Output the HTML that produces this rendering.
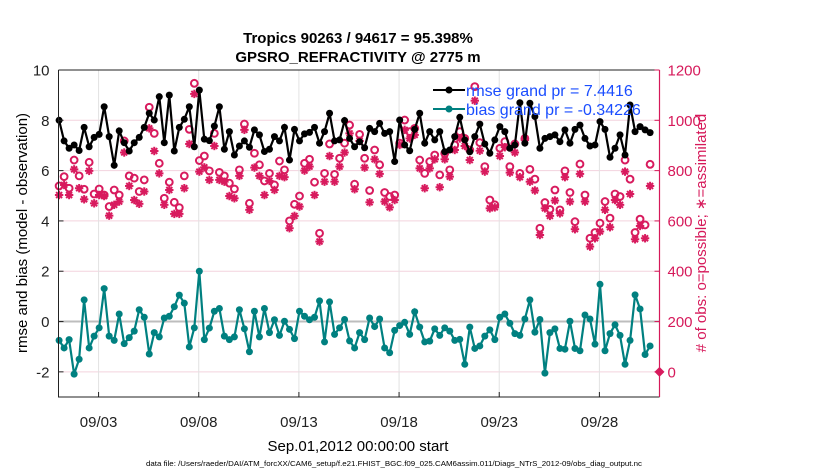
<!DOCTYPE html>
<html><head><meta charset="utf-8"><style>
body{margin:0;background:#fff;}
svg text{font-family:"Liberation Sans",Arial,sans-serif;}
</style></head><body>
<svg id="chart" width="830" height="470" xmlns="http://www.w3.org/2000/svg">
<rect width="830" height="470" fill="#fff"/>
<text x="358" y="43" text-anchor="middle" font-size="15" font-weight="bold">Tropics 90263 / 94617 = 95.398%</text>
<text x="358" y="62" text-anchor="middle" font-size="15" font-weight="bold">GPSRO_REFRACTIVITY @ 2775 m</text>
<g id="grid"></g>
<g id="marks"></g>
<g id="axes"></g>
<text transform="translate(27,233) rotate(-90)" text-anchor="middle" font-size="15">rmse and bias (model - observation)</text>
<text transform="translate(706,233) rotate(-90)" text-anchor="middle" font-size="15" fill="#d6195a"># of obs: o=possible; ∗=assimilated</text>
<text x="358" y="451" text-anchor="middle" font-size="15">Sep.01,2012 00:00:00 start</text>
<text x="394" y="466" text-anchor="middle" font-size="7.4" textLength="496" lengthAdjust="spacingAndGlyphs">data file: /Users/raeder/DAI/ATM_forcXX/CAM6_setup/f.e21.FHIST_BGC.f09_025.CAM6assim.011/Diags_NTrS_2012-09/obs_diag_output.nc</text>
<g id="legend">
<line x1="433" y1="90" x2="465" y2="90" stroke="#000" stroke-width="2"/><circle cx="449" cy="90" r="3.5" fill="#000"/>
<text x="466" y="96" font-size="16" fill="#1a4dff">rmse grand pr = 7.4416</text>
<line x1="433" y1="109" x2="465" y2="109" stroke="#008080" stroke-width="2"/><circle cx="449" cy="109" r="3.5" fill="#008080"/>
<text x="466" y="115" font-size="16" fill="#1a4dff">bias grand pr = -0.34226</text>
</g>
</svg>
<script>
const tickDays = [2,7,12,17,22,27];
const tickLabels = ["09/03","09/08","09/13","09/18","09/23","09/28"];
const leftTicks = [-2,0,2,4,6,8,10];
const rightTicks = [0,200,400,600,800,1000,1200];
const rmse = [8.0,7.18,6.89,7.02,6.8,7.72,6.95,7.32,7.44,8.54,7.35,6.21,7.58,7.11,6.78,7.11,7.32,7.72,8.28,8.01,8.94,7.11,9.0,6.78,7.72,8.04,8.54,6.95,9.2,7.25,7.19,7.77,8.54,6.85,7.55,6.62,6.98,7.18,6.93,7.62,7.42,6.76,6.85,7.35,7.18,7.72,6.42,7.64,7.18,7.46,7.52,7.72,7.09,7.55,8.28,7.18,7.22,7.99,7.28,6.95,7.15,
6.91,7.68,7.55,7.88,7.48,7.55,6.36,8.01,7.02,6.79,7.64,8.28,7.09,7.55,7.22,7.55,6.75,6.82,7.35,8.12,7.22,6.75,7.35,7.85,7.06,6.69,7.22,7.75,7.55,6.89,7.02,8.70,7.09,8.68,8.15,6.89,7.28,7.35,7.42,7.15,7.62,7.09,7.64,7.81,7.28,6.98,7.02,7.95,7.64,6.53,6.89,7.42,6.62,8.61,7.55,7.75,7.62,7.51];
const bias = [-0.75,-1.05,-0.72,-2.09,-1.5,0.86,-1.05,-0.58,-0.25,1.31,-0.58,-0.75,0.3,-0.88,-0.64,-0.38,0.47,0.17,-1.29,-0.44,-0.61,0.14,0.21,0.59,1.05,0.73,-1.01,-0.25,2.0,-0.72,-0.26,0.41,0.52,-0.58,-0.72,-0.61,0.47,-0.29,-1.2,0.41,-0.61,0.52,-0.44,0.07,-0.55,0.01,-0.31,-0.68,0.41,0.21,0.07,0.17,0.82,-0.81,0.78,-0.51,-0.25,0.08,-0.77,-1.05,-0.44,
-0.72,0.14,-0.2,0.1,-1.05,-1.24,-0.35,-0.16,-0.03,-0.51,0.39,-0.22,-0.81,-0.78,-0.29,-0.55,-0.25,-0.38,-0.75,-0.71,-1.7,-0.22,-1.07,-0.97,-0.58,-0.33,-0.72,0.17,0.3,-0.07,-0.48,-0.55,0.1,0.86,-0.42,0.08,-2.05,-0.44,-0.29,-1.07,-1.1,0.01,-1.07,-1.16,0.26,0.1,-0.9,1.48,-1.16,-0.48,-0.13,-0.55,-1.7,-0.75,1.06,0.5,-1.31,-0.97];
const possible = [739,776,730,842,779,726,833,707,727,703,657,723,703,918,779,770,717,763,1052,948,829,690,754,674,653,779,964,1147,840,858,799,948,793,779,750,727,803,985,670,869,823,759,789,743,838,803,600,666,699,829,845,754,551,789,906,785,849,909,981,746,944,
849,721,882,823,713,697,703,909,1001,955,968,842,789,836,862,783,869,803,902,955,928,882,1134,911,816,683,664,889,915,816,906,789,928,805,766,571,673,646,723,644,799,713,597,826,703,531,554,591,677,611,707,697,842,766,554,607,584,825];
const assimilated = [703,743,703,805,730,686,799,670,703,699,621,664,677,872,739,683,668,717,968,878,789,664,723,628,628,730,906,1105,796,813,763,898,763,756,699,690,779,962,644,812,779,703,759,723,779,774,571,620,657,800,816,703,518,756,858,756,816,872,948,726,918,
812,674,845,787,677,654,683,902,962,928,942,809,730,809,845,734,845,776,882,928,898,842,1078,879,796,650,654,858,893,792,872,774,922,756,721,544,650,620,681,630,774,677,567,787,677,498,531,558,644,575,683,664,796,707,527,580,531,739];
const stepDays = 0.25;
const NS="http://www.w3.org/2000/svg";
const X0=58.5,X1=659.5,YT=70,YB=397;
const xs=d=>X0+(d/30)*(X1-X0);
const yl=v=>YT+(10-v)/13*(YB-YT);
const yr=c=>yl(c/100-2);
const tOf=i=>i*stepDays+0.03;
function mk(tag,attrs,parent){const e=document.createElementNS(NS,tag);for(const k in attrs)e.setAttribute(k,attrs[k]);parent.appendChild(e);return e;}
const grid=document.getElementById('grid'),marks=document.getElementById('marks'),axes=document.getElementById('axes');
leftTicks.forEach(v=>{const l=mk('line',{x1:X0,x2:X1,y1:yl(v),y2:yl(v),stroke:'#f3d3de','stroke-width':1},grid);

});
tickDays.forEach(d=>{const l=mk('line',{x1:xs(d),x2:xs(d),y1:YT,y2:YB,stroke:'#e2e2e2','stroke-width':1},grid);

});
const z=mk('line',{x1:X0,x2:X1,y1:yl(0),y2:yl(0),stroke:'#bdbdbd','stroke-width':2},grid);


function star(cx,cy,parent){const g=mk('g',{stroke:'#d81b5e','stroke-width':2},parent);const r=4.2;
for(let a=0;a<4;a++){const th=a*Math.PI/4;mk('line',{x1:cx-r*Math.cos(th),y1:cy-r*Math.sin(th),x2:cx+r*Math.cos(th),y2:cy+r*Math.sin(th)},g);}return g;}
possible.forEach((c,i)=>{const e=mk('circle',{cx:xs(tOf(i)),cy:yr(c),r:3.4,fill:'none',stroke:'#d81b5e','stroke-width':2},marks);

});
assimilated.forEach((c,i)=>{const g=star(xs(tOf(i)),yr(c),marks);

});
function series(vals,color,name){const pts=vals.map((v,i)=>xs(tOf(i)).toFixed(1)+','+yl(v).toFixed(1)).join(' ');
const p=mk('polyline',{points:pts,fill:'none',stroke:color,'stroke-width':2.2},marks);


vals.forEach((v,i)=>{const c=mk('circle',{cx:xs(tOf(i)),cy:yl(v),r:3.5,fill:color},marks);

});}
series(rmse,'#000','rmse');
series(bias,'#008080','bias');
const zd=mk('path',{d:`M${X1-5},${yr(0)} L${X1},${yr(0)-5} L${X1+5},${yr(0)} L${X1},${yr(0)+5}Z`,fill:'#d81b5e'},marks);


const fr=mk('path',{d:`M${X0},${YT} L${X1},${YT} M${X0},${YT} L${X0},${YB} L${X1},${YB}`,stroke:'#222',fill:'none','stroke-width':1},axes);


const ra=mk('line',{x1:X1,x2:X1,y1:YT,y2:YB,stroke:'#d6195a','stroke-width':1.2},axes);


leftTicks.forEach(v=>{mk('line',{x1:X0,x2:X0+5,y1:yl(v),y2:yl(v),stroke:'#222'},axes);
const t=mk('text',{x:X0-9,y:yl(v)+5.5,'text-anchor':'end','font-size':15,fill:'#222'},axes);t.textContent=v;

});
rightTicks.forEach(c=>{mk('line',{x1:X1-5,x2:X1,y1:yr(c),y2:yr(c),stroke:'#d6195a'},axes);
const t=mk('text',{x:X1+8,y:yr(c)+5.5,'font-size':15,fill:'#d6195a'},axes);t.textContent=c;

});
tickDays.forEach((d,k)=>{mk('line',{x1:xs(d),x2:xs(d),y1:YB,y2:YB-5,stroke:'#222'},axes);
const t=mk('text',{x:xs(d),y:427,'text-anchor':'middle','font-size':15,fill:'#222'},axes);t.textContent=tickLabels[k];

});
</script>
</body></html>
